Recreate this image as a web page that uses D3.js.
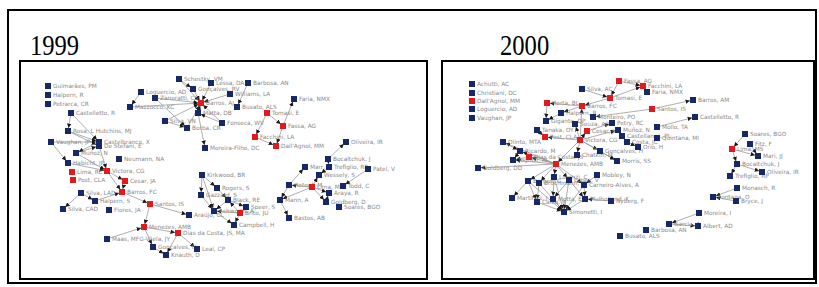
<!DOCTYPE html>
<html lang="en">
<head>
<meta charset="UTF-8">
<title>Co-authorship networks 1999 / 2000</title>
<script src="https://d3js.org/d3.v7.min.js"></script>
<style>
  body { margin: 0; background: #fff; }
  .link { stroke: #8c8c8c; stroke-width: 0.7px; fill: none; }
  .label { font-family: 'DejaVu Sans', sans-serif; font-size: 5.8px; fill: #8a8a8a; }
  .title { font-family: 'Liberation Serif', 'Times New Roman', serif; fill: #000; }
</style>
</head>
<body>
<script>
// --- data: [name, x, y, group]  (layout units inside each panel, r = red, b = navy)
var nodes1999 = [
  ["Guimarães, PM", 28, 25, "b"], ["Halpern, R", 28, 34, "b"], ["Petrarca, CR", 28, 43, "b"],
  ["Castelletto, R", 51, 52, "b"], ["Loguercio, AD", 121, 31, "b"], ["Mazzocco, KC", 110, 46, "b"],
  ["Rosa, L  Hutchins, MJ", 48, 70, "b"], ["Castelbranco, X", 79, 81, "b"], ["De Stefani, E", 79, 85, "b"],
  ["Vaughan, JP", 31, 81, "b"], ["Muñoz, N", 56, 92, "b"], ["Habicht, JP", 48, 102, "b"],
  ["Neumann, NA", 99, 98, "b"], ["Victora, CG", 87, 110, "r"], ["Lima, RC", 52, 111, "r"],
  ["Post, CLA", 53, 119, "r"], ["Cesar, JA", 105, 120, "r"], ["Barros, FC", 102, 131, "r"],
  ["Silva, LAD", 61, 132, "b"], ["Halpern, S", 75, 140, "b"], ["Silva, CAD", 43, 148, "b"],
  ["Flores, JA", 89, 149, "b"], ["Santos, IS", 130, 143, "r"], ["Menezes, AMB", 124, 166, "r"],
  ["Maas, MFG-Vilela, JY", 87, 178, "b"], ["Gonçalves, H", 133, 186, "b"], ["Dias da Costa, JS, MA", 158, 172, "r"],
  ["Araújo, CL", 169, 154, "b"], ["Leal, CP", 177, 188, "b"], ["Knauth, D", 146, 194, "b"],
  ["Kirkwood, BR", 182, 114, "b"], ["Rogers, S", 197, 127, "b"], ["Gazzard, S", 181, 134, "b"],
  ["Black, RE", 208, 139, "b"], ["Speer, S", 226, 146, "b"], ["Ashworth, A", 194, 150, "b"],
  ["Brito, JU", 220, 152, "r"], ["Campbell, H", 214, 164, "b"], ["Marr, J", 285, 106, "b"],
  ["Trefiglio, RP", 309, 106, "b"], ["Patel, V", 348, 108, "b"], ["Wessely, S", 299, 114, "b"],
  ["Hotopf, M", 269, 124, "b"], ["Lima, MS", 292, 126, "r"], ["Todd, C", 323, 125, "b"],
  ["Araya, R", 309, 132, "b"], ["Goldberg, D", 306, 141, "b"], ["Soares, BGO", 319, 146, "b"],
  ["Mann, A", 260, 139, "b"], ["Bastos, AB", 269, 157, "b"], ["Faria, NMX", 274, 38, "b"],
  ["Fassa, AG", 263, 65, "r"], ["Oliveira, IR", 326, 81, "b"], ["Bocaltchuk, J", 308, 98, "b"],
  ["Schestky, VM", 159, 18, "b"], ["Lessa, DA", 191, 22, "b"], ["Barbosa, AN", 228, 22, "b"],
  ["Gonçalves, RV", 173, 28, "b"], ["Zanoratti, CS", 135, 37, "b"], ["Williams, LA", 210, 33, "b"],
  ["Barros, AJ", 181, 42, "r"], ["Busato, ALS", 217, 46, "b"], ["Matta, DB", 178, 52, "b"],
  ["Silva, VN", 145, 60, "b"], ["Borba, CR", 167, 67, "b"], ["Fonseca, WV", 202, 62, "b"],
  ["Moreira-Filho, DC", 185, 87, "b"], ["Tomasi, E", 247, 52, "r"], ["Facchini, LA", 235, 76, "r"],
  ["Dall'Agnol, MM", 256, 85, "r"]
];
var links1999 = [
  ["Castelletto, R", "Rosa, L  Hutchins, MJ"], ["Castelletto, R", "Castelbranco, X"],
  ["Rosa, L  Hutchins, MJ", "Castelbranco, X"], ["Rosa, L  Hutchins, MJ", "De Stefani, E"],
  ["Vaughan, JP", "Castelbranco, X"], ["Vaughan, JP", "Habicht, JP"], ["Muñoz, N", "De Stefani, E"],
  ["Castelbranco, X", "Muñoz, N"], ["Muñoz, N", "Victora, CG"], ["De Stefani, E", "Victora, CG"],
  ["Habicht, JP", "Victora, CG"], ["Victora, CG", "Cesar, JA"], ["Victora, CG", "Barros, FC"],
  ["Cesar, JA", "Barros, FC"], ["Halpern, S", "Barros, FC"], ["Silva, LAD", "Halpern, S"],
  ["Silva, LAD", "Silva, CAD"], ["Barros, FC", "Santos, IS"], ["Santos, IS", "Menezes, AMB"],
  ["Santos, IS", "Araújo, CL"], ["Maas, MFG-Vilela, JY", "Menezes, AMB"], ["Menezes, AMB", "Dias da Costa, JS, MA"],
  ["Menezes, AMB", "Gonçalves, H"], ["Dias da Costa, JS, MA", "Leal, CP"], ["Dias da Costa, JS, MA", "Knauth, D"],
  ["Gonçalves, H", "Knauth, D"], ["Kirkwood, BR", "Rogers, S"], ["Kirkwood, BR", "Gazzard, S"],
  ["Kirkwood, BR", "Ashworth, A"], ["Gazzard, S", "Ashworth, A"], ["Rogers, S", "Black, RE"],
  ["Black, RE", "Ashworth, A"], ["Black, RE", "Speer, S"], ["Brito, JU", "Black, RE"],
  ["Brito, JU", "Ashworth, A"], ["Brito, JU", "Campbell, H"], ["Ashworth, A", "Campbell, H"],
  ["Hotopf, M", "Mann, A"], ["Mann, A", "Bastos, AB"], ["Hotopf, M", "Marr, J"],
  ["Lima, MS", "Hotopf, M"], ["Lima, MS", "Mann, A"], ["Lima, MS", "Wessely, S"],
  ["Lima, MS", "Araya, R"], ["Lima, MS", "Goldberg, D"], ["Goldberg, D", "Araya, R"],
  ["Trefiglio, RP", "Wessely, S"], ["Bocaltchuk, J", "Oliveira, IR"], ["Bocaltchuk, J", "Trefiglio, RP"],
  ["Patel, V", "Todd, C"], ["Schestky, VM", "Barros, AJ"], ["Gonçalves, RV", "Barros, AJ"],
  ["Zanoratti, CS", "Barros, AJ"], ["Mazzocco, KC", "Barros, AJ"], ["Silva, VN", "Barros, AJ"],
  ["Borba, CR", "Barros, AJ"], ["Matta, DB", "Barros, AJ"], ["Fonseca, WV", "Barros, AJ"],
  ["Williams, LA", "Barros, AJ"], ["Lessa, DA", "Barros, AJ"], ["Schestky, VM", "Gonçalves, RV"],
  ["Loguercio, AD", "Mazzocco, KC"], ["Zanoratti, CS", "Borba, CR"], ["Silva, VN", "Borba, CR"],
  ["Matta, DB", "Moreira-Filho, DC"], ["Fonseca, WV", "Matta, DB"], ["Barbosa, AN", "Busato, ALS"],
  ["Tomasi, E", "Fassa, AG"], ["Tomasi, E", "Facchini, LA"], ["Facchini, LA", "Dall'Agnol, MM"],
  ["Fassa, AG", "Dall'Agnol, MM"], ["Fassa, AG", "Faria, NMX"]
];

var nodes2000 = [
  ["Achutti, AC", 30, 23, "b"], ["Christiani, DC", 30, 32, "b"], ["Dall'Agnol, MM", 30, 40, "r"],
  ["Loguercio, AD", 30, 48, "b"], ["Vaughan, JP", 30, 57, "b"], ["Horta, BL", 105, 42, "r"],
  ["Halpern, R", 119, 52, "b"], ["Gigante, DP", 104, 60, "b"], ["Tanaka, OY", 95, 69, "b"],
  ["Post, CLA", 103, 76, "r"], ["Olinto, MTA", 61, 81, "b"], ["Ricardo, M", 78, 90, "b"],
  ["Tognoli, AI", 71, 99, "b"], ["Dias da Costa, JS", 87, 96, "r"], ["Goldberg, DD", 36, 107, "b"],
  ["Menezes, AMB", 114, 103, "r"], ["Fassa, AG", 177, 20, "r"], ["Facchini, LA", 201, 25, "r"],
  ["Faria, NMX", 205, 31, "b"], ["Silva, AC", 140, 28, "b"], ["Tomasi, E", 168, 37, "r"],
  ["Barros, FC", 140, 45, "r"], ["Monteiro, PO", 151, 56, "b"], ["Santos, IS", 210, 48, "r"],
  ["Souza, AC", 133, 63, "b"], ["Petry, RC", 170, 62, "b"], ["Cesar, JA", 145, 70, "r"],
  ["Muñoz, N", 176, 69, "b"], ["Mollo, TA", 215, 66, "b"], ["Victora, CG", 138, 79, "r"],
  ["Castellanos, PL", 180, 75, "b"], ["Costa, JC", 185, 81, "b"], ["Orio, H", 196, 86, "b"],
  ["Quintana, MI", 215, 77, "b"], ["Gonçalves, H", 158, 90, "b"], ["Chatkin, M", 135, 94, "b"],
  ["Morris, SS", 175, 100, "b"], ["Barros, AM", 251, 39, "b"], ["Castelletto, R", 253, 56, "b"],
  ["Soares, BGO", 303, 73, "b"], ["Fitz, F", 308, 83, "b"], ["Lima, MS", 290, 88, "r"],
  ["Mari, JJ", 316, 95, "b"], ["Bocaltchuk, J", 295, 103, "b"], ["Oliveira, IR", 320, 111, "b"],
  ["Trefiglio, RP", 288, 115, "b"], ["Monasch, R", 295, 127, "b"], ["Fontana, O", 271, 136, "b"],
  ["Bryce, J", 294, 140, "b"], ["Moreira, I", 257, 152, "b"], ["Garcia, A", 227, 163, "b"],
  ["Albert, AD", 256, 165, "b"], ["Barbosa, AN", 204, 169, "b"], ["Busato, ALS", 178, 175, "b"],
  ["Lorenzi, C", 112, 116, "b"], ["Mobley, N", 155, 114, "b"], ["Borges, G", 86, 120, "b"],
  ["Brüchmann, V", 97, 122, "b"], ["Lopes, V", 127, 119, "b"], ["Carneiro-Alves, A", 142, 124, "b"],
  ["Martines, J", 70, 137, "b"], ["Caleo, R", 95, 141, "b"], ["Motta, E", 111, 138, "b"],
  ["Mulholland, K", 143, 138, "b"], ["Nyberg, F", 169, 140, "b"], ["Simonetti, I", 122, 151, "b"]
];
var links2000 = [
  ["Fassa, AG", "Facchini, LA"], ["Fassa, AG", "Tomasi, E"], ["Facchini, LA", "Faria, NMX"],
  ["Tomasi, E", "Facchini, LA"], ["Silva, AC", "Tomasi, E"], ["Tomasi, E", "Barros, FC"],
  ["Barros, FC", "Horta, BL"], ["Horta, BL", "Gigante, DP"], ["Halpern, R", "Gigante, DP"],
  ["Barros, FC", "Halpern, R"], ["Victora, CG", "Barros, FC"], ["Victora, CG", "Cesar, JA"],
  ["Victora, CG", "Post, CLA"], ["Victora, CG", "Menezes, AMB"], ["Victora, CG", "Muñoz, N"],
  ["Victora, CG", "Gonçalves, H"], ["Victora, CG", "Chatkin, M"], ["Victora, CG", "Souza, AC"],
  ["Victora, CG", "Morris, SS"], ["Cesar, JA", "Petry, RC"], ["Santos, IS", "Monteiro, PO"],
  ["Muñoz, N", "Castellanos, PL"], ["Costa, JC", "Orio, H"], ["Mollo, TA", "Castelletto, R"],
  ["Santos, IS", "Barros, AM"], ["Gonçalves, H", "Morris, SS"], ["Tanaka, OY", "Post, CLA"],
  ["Menezes, AMB", "Dias da Costa, JS"], ["Menezes, AMB", "Olinto, MTA"], ["Menezes, AMB", "Ricardo, M"],
  ["Menezes, AMB", "Tognoli, AI"], ["Menezes, AMB", "Goldberg, DD"], ["Olinto, MTA", "Ricardo, M"],
  ["Ricardo, M", "Tognoli, AI"], ["Dias da Costa, JS", "Tognoli, AI"], ["Menezes, AMB", "Lorenzi, C"],
  ["Menezes, AMB", "Borges, G"], ["Menezes, AMB", "Brüchmann, V"], ["Menezes, AMB", "Lopes, V"],
  ["Menezes, AMB", "Carneiro-Alves, A"], ["Borges, G", "Martines, J"], ["Borges, G", "Caleo, R"],
  ["Brüchmann, V", "Caleo, R"], ["Lorenzi, C", "Motta, E"], ["Lopes, V", "Motta, E"],
  ["Carneiro-Alves, A", "Mulholland, K"], ["Lopes, V", "Mulholland, K"], ["Borges, G", "Simonetti, I"],
  ["Brüchmann, V", "Simonetti, I"], ["Lorenzi, C", "Simonetti, I"], ["Lopes, V", "Simonetti, I"],
  ["Carneiro-Alves, A", "Simonetti, I"], ["Caleo, R", "Simonetti, I"], ["Motta, E", "Simonetti, I"],
  ["Mulholland, K", "Simonetti, I"], ["Nyberg, F", "Mulholland, K"], ["Mobley, N", "Carneiro-Alves, A"],
  ["Soares, BGO", "Lima, MS"], ["Lima, MS", "Mari, JJ"], ["Lima, MS", "Bocaltchuk, J"],
  ["Fitz, F", "Mari, JJ"], ["Bocaltchuk, J", "Oliveira, IR"], ["Bocaltchuk, J", "Trefiglio, RP"],
  ["Monasch, R", "Fontana, O"], ["Bryce, J", "Fontana, O"], ["Moreira, I", "Garcia, A"],
  ["Garcia, A", "Albert, AD"]
];

var years = ["1999", "2000"];

var W = 819, H = 287;
var svg = d3.select("body").append("svg").attr("width", W).attr("height", H);

svg.append("defs").append("marker")
    .attr("id", "arr")
    .attr("viewBox", "0 -3 6 6")
    .attr("refX", 10)
    .attr("refY", 0)
    .attr("markerUnits", "userSpaceOnUse")
    .attr("markerWidth", 4.5)
    .attr("markerHeight", 4.5)
    .attr("orient", "auto")
  .append("path")
    .attr("d", "M0,-3L6,0L0,3Z")
    .attr("fill", "#1a1a1a");

// outer frame
svg.append("rect")
    .attr("x", 8).attr("y", 10).attr("width", 808).attr("height", 273)
    .attr("fill", "none").attr("stroke", "#000").attr("stroke-width", 2);

var panels = [
  {year: years[0], nodes: nodes1999, links: links1999, x: 20, y: 61, w: 407, h: 218, tx: 30},
  {year: years[1], nodes: nodes2000, links: links2000, x: 442, y: 61, w: 372, h: 218, tx: 500}
];

var colour = {r: "#e3191c", b: "#16286a"};

panels.forEach(function(p) {
    svg.append("text").attr("class", "title")
        .attr("x", p.tx).attr("y", 55)
        .attr("font-size", 30)
        .attr("transform", "translate(" + p.tx + ",0) scale(0.82,1) translate(" + (-p.tx) + ",0)")
        .text(p.year);

    svg.append("rect")
        .attr("x", p.x).attr("y", p.y).attr("width", p.w).attr("height", p.h)
        .attr("fill", "#fff").attr("stroke", "#000").attr("stroke-width", 2);

    var x = d3.scaleLinear().domain([0, p.w]).range([p.x, p.x + p.w]);
    var y = d3.scaleLinear().domain([0, p.h]).range([p.y, p.y + p.h]);

    var byName = {};
    var nodes = p.nodes.map(function(d) {
        var n = {id: d[0], x: d[1], y: d[2], g: d[3]};
        byName[n.id] = n;
        return n;
    });
    var links = p.links.map(function(l) { return {source: byName[l[0]], target: byName[l[1]]}; });

    var g = svg.append("g");

    g.selectAll("line.link")
        .data(links)
        .enter().append("line")
        .attr("class", "link")
        .attr("x1", function(d) { return x(d.source.x); })
        .attr("y1", function(d) { return y(d.source.y); })
        .attr("x2", function(d) { return x(d.target.x); })
        .attr("y2", function(d) { return y(d.target.y); })
        .attr("marker-end", "url(#arr)");

    g.selectAll("text.label")
        .data(nodes)
        .enter().append("text")
        .attr("class", "label")
        .attr("x", function(d) { return x(d.x) + 5; })
        .attr("y", function(d) { return y(d.y) + 2; })
        .text(function(d) { return d.id; });

    g.selectAll("rect.node")
        .data(nodes)
        .enter().append("rect")
        .attr("class", "node")
        .attr("x", function(d) { return x(d.x) - 3; })
        .attr("y", function(d) { return y(d.y) - 3; })
        .attr("width", 6).attr("height", 6)
        .attr("fill", function(d) { return colour[d.g]; });
});
</script>
</body>
</html>
